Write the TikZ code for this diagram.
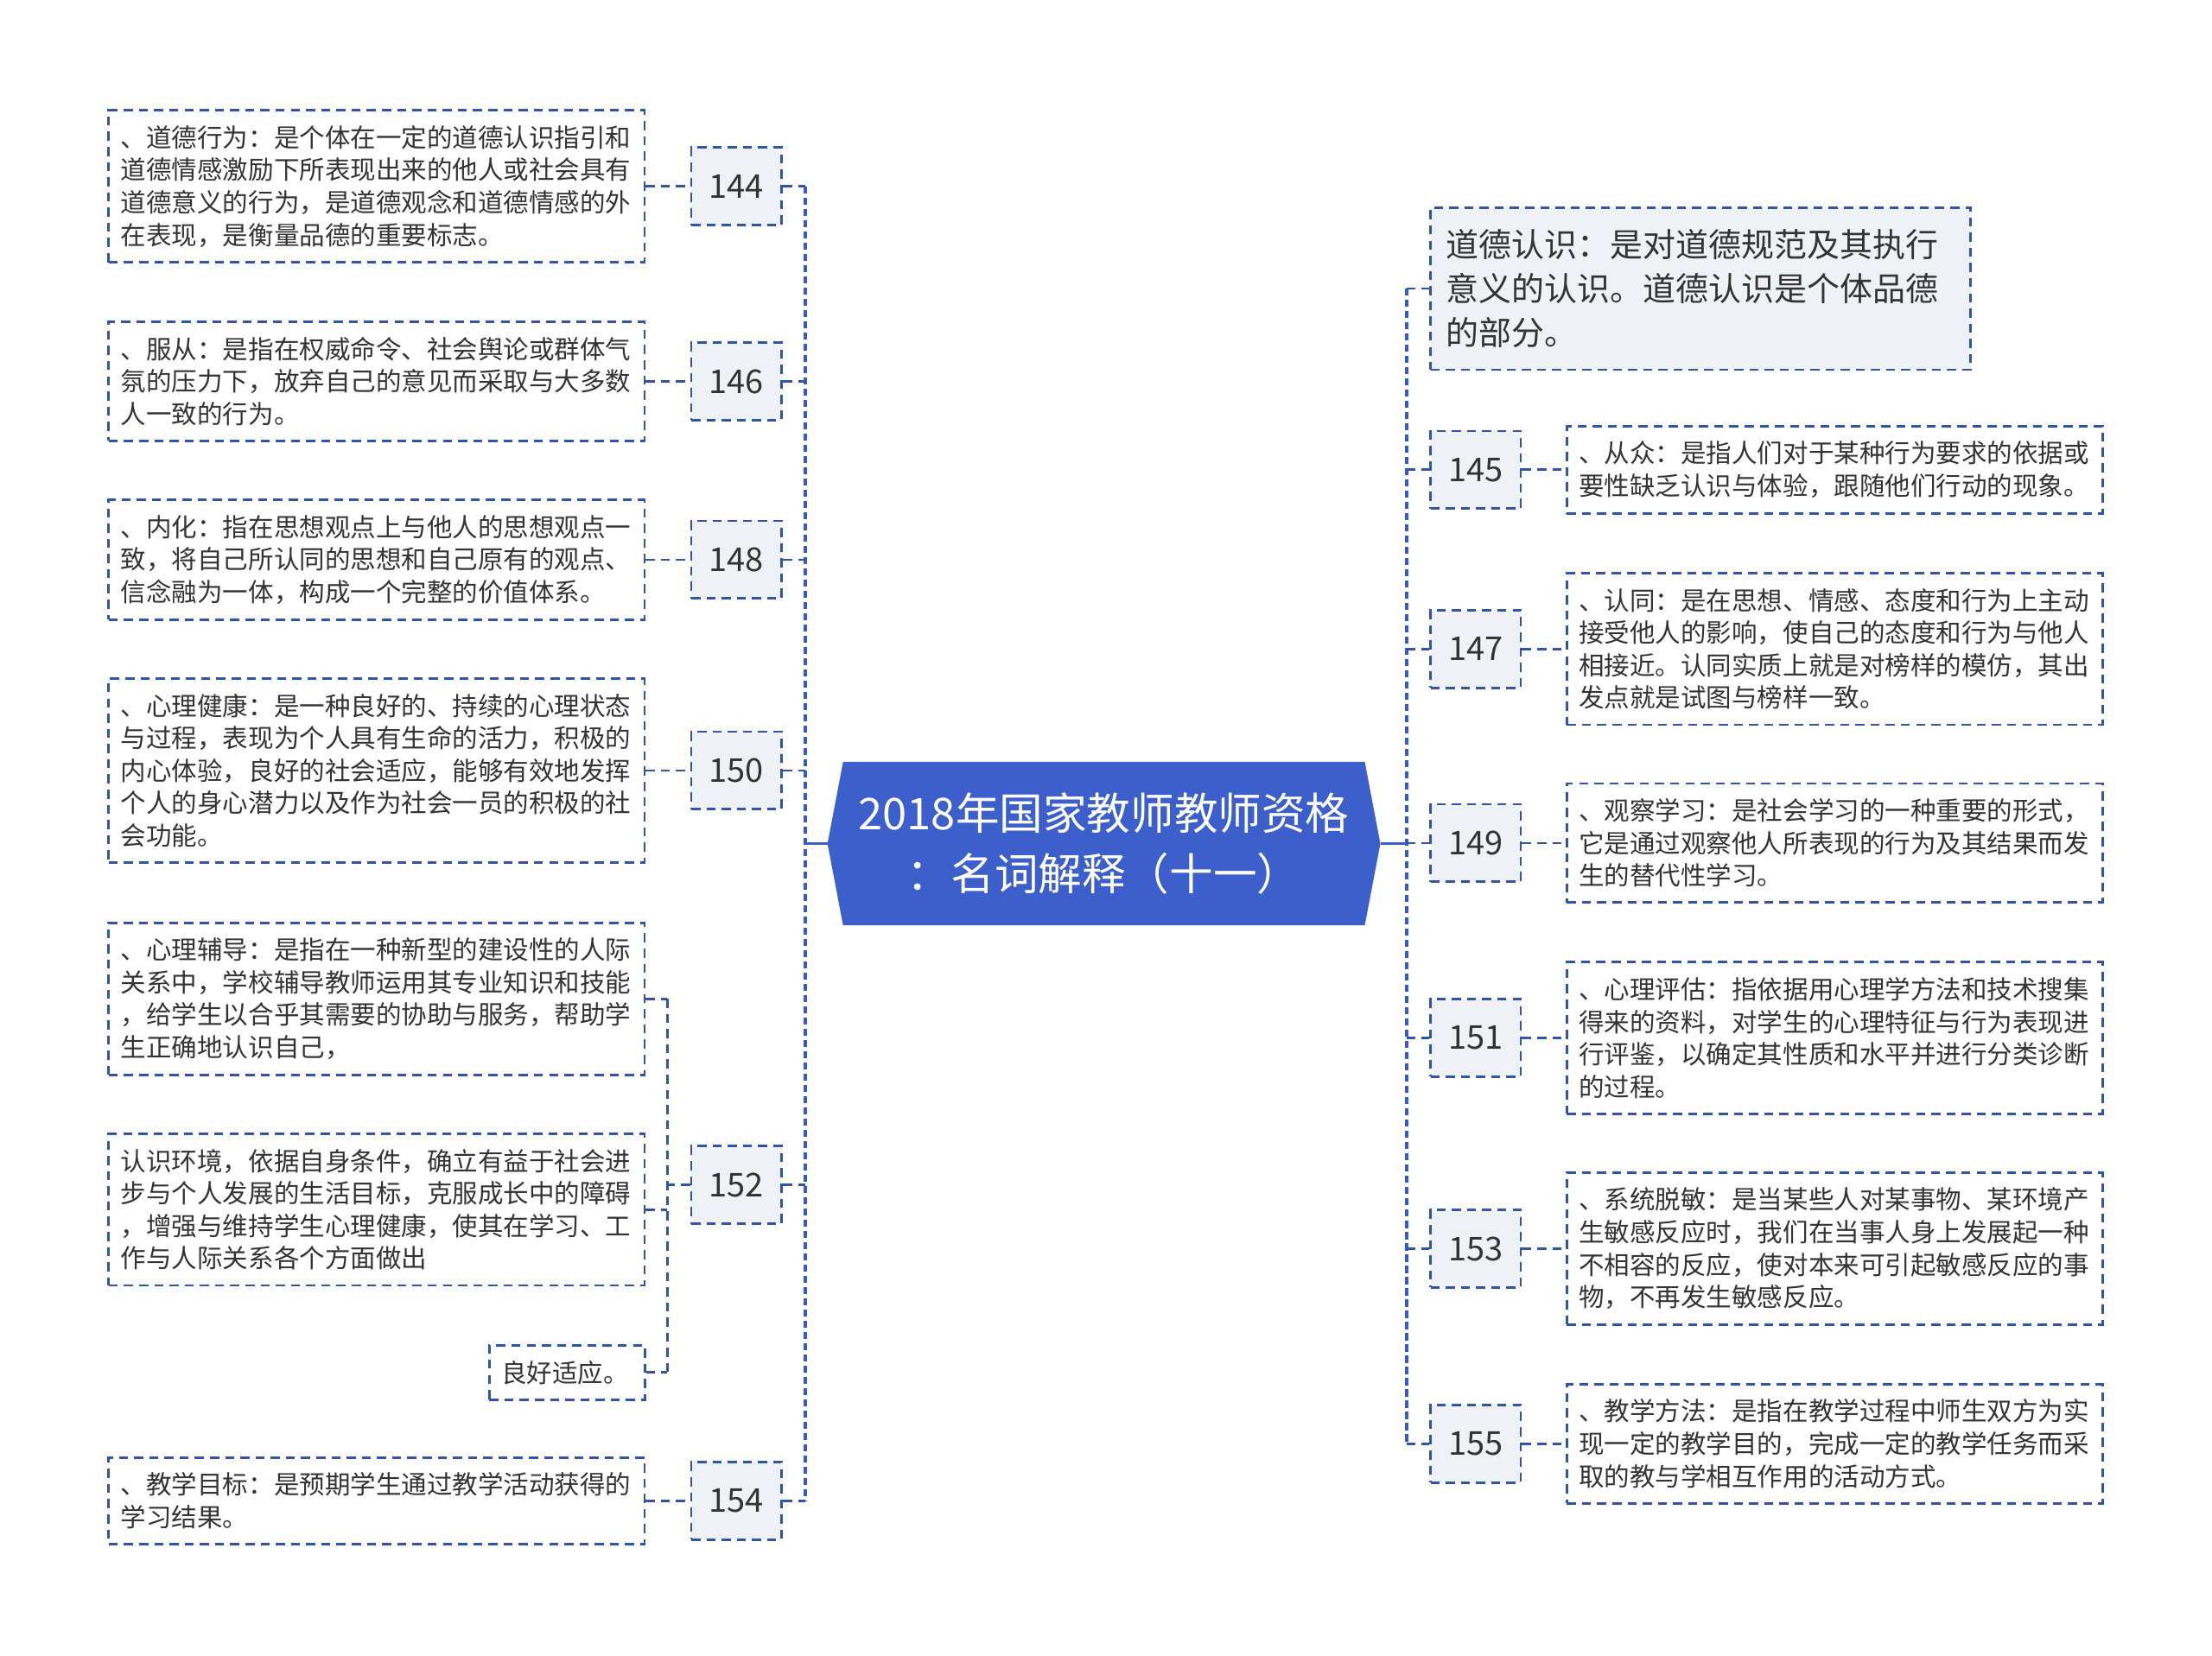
\documentclass[tikz,border=0pt]{standalone}
\usepackage{fontspec}
\setmainfont{Noto Sans CJK SC}
\usetikzlibrary{backgrounds}

\definecolor{rootblue}{RGB}{61,95,204}
\definecolor{trunkblue}{RGB}{56,90,196}
\definecolor{linkblue}{RGB}{48,84,172}
\definecolor{numfill}{RGB}{238,241,246}
\definecolor{inkgray}{RGB}{51,51,51}

\tikzset{
  link/.style={draw=linkblue, line width=0.8pt, dash pattern=on 3pt off 2pt},
  trunk/.style={draw=trunkblue, line width=1.2pt, dash pattern=on 2.3pt off 1.4pt},
  rootlink/.style={draw=rootblue, line width=0.9pt},
  leafbox/.style={link, fill=white, text=inkgray, align=left, text width=5.92cm,
    inner xsep=0.14cm, inner ysep=5pt, font=\fontsize{8.4}{10.7}\selectfont},
  numbox/.style={link, fill=numfill, text=inkgray, minimum width=1.045cm,
    minimum height=0.898cm, inner sep=0pt, font=\fontsize{10.8}{13}\selectfont},
  headbox/.style={link, fill=numfill, text=inkgray, align=left, text width=5.89cm,
    inner xsep=0.18cm, minimum height=1.878cm, font=\fontsize{10.8}{14.4}\selectfont},
}

\begin{document}
\begin{tikzpicture}

		\useasboundingbox (0,0) rectangle (25.6,19.17);

		% root
		\node[text=white, align=center, minimum width=6.384cm, minimum height=1.878cm,
			font=\fontsize{14.4}{19.9}\selectfont] (root) at (12.776,9.404)
			{2018年国家教师教师资格\\：名词解释（十一）};
		\begin{scope}[on background layer]
			\fill[rootblue] (root.west) -- ([xshift=0.18cm]root.north west) -- ([xshift=-0.18cm]root.north east)
				-- (root.east) -- ([xshift=-0.18cm]root.south east) -- ([xshift=0.18cm]root.south west) -- cycle;
		\end{scope}

		% left side
		\node[leafbox] (t144) at (4.359,17.013) {、道德行为：是个体在一定的道德认识指引和\\道德情感激励下所表现出来的他人或社会具有\\道德意义的行为，是道德观念和道德情感的外\\在表现，是衡量品德的重要标志。};
		\node[numbox] (n144) at (8.523,17.013) {144};

		\node[leafbox] (t146) at (4.359,14.755) {、服从：是指在权威命令、社会舆论或群体气\\氛的压力下，放弃自己的意见而采取与大多数\\人一致的行为。};
		\node[numbox] (n146) at (8.523,14.755) {146};

		\node[leafbox] (t148) at (4.359,12.69) {、内化：指在思想观点上与他人的思想观点一\\致，将自己所认同的思想和自己原有的观点、\\信念融为一体，构成一个完整的价值体系。};
		\node[numbox] (n148) at (8.523,12.69) {148};

		\node[leafbox] (t150) at (4.359,10.25) {、心理健康：是一种良好的、持续的心理状态\\与过程，表现为个人具有生命的活力，积极的\\内心体验，良好的社会适应，能够有效地发挥\\个人的身心潜力以及作为社会一员的积极的社\\会功能。};
		\node[numbox] (n150) at (8.523,10.25) {150};

		\node[leafbox] (t152a) at (4.359,7.608) {、心理辅导：是指在一种新型的建设性的人际\\关系中，学校辅导教师运用其专业知识和技能\\，给学生以合乎其需要的协助与服务，帮助学\\生正确地认识自己，};
		\node[leafbox] (t152b) at (4.359,5.167) {认识环境，依据自身条件，确立有益于社会进\\步与个人发展的生活目标，克服成长中的障碍\\，增强与维持学生心理健康，使其在学习、工\\作与人际关系各个方面做出};
		\node[leafbox, text width=1.52cm] (t152c) at (6.563,3.282) {良好适应。};
		\node[numbox] (n152) at (8.523,5.453) {152};

		\node[leafbox] (t154) at (4.359,1.796) {、教学目标：是预期学生通过教学活动获得的\\学习结果。};
		\node[numbox] (n154) at (8.523,1.796) {154};

		% right side
		\node[headbox] (moral) at (19.682,15.829) {道德认识：是对道德规范及其执行\\意义的认识。道德认识是个体品德\\的部分。};

		\node[numbox] (n145) at (17.078,13.731) {145};
		\node[leafbox] (t145) at (21.233,13.731) {、从众：是指人们对于某种行为要求的依据或\\要性缺乏认识与体验，跟随他们行动的现象。};

		\node[numbox] (n147) at (17.078,11.657) {147};
		\node[leafbox] (t147) at (21.233,11.657) {、认同：是在思想、情感、态度和行为上主动\\接受他人的影响，使自己的态度和行为与他人\\相接近。认同实质上就是对榜样的模仿，其出\\发点就是试图与榜样一致。};

		\node[numbox] (n149) at (17.078,9.41) {149};
		\node[leafbox] (t149) at (21.233,9.41) {、观察学习：是社会学习的一种重要的形式，\\它是通过观察他人所表现的行为及其结果而发\\生的替代性学习。};

		\node[numbox] (n151) at (17.078,7.155) {151};
		\node[leafbox] (t151) at (21.233,7.155) {、心理评估：指依据用心理学方法和技术搜集\\得来的资料，对学生的心理特征与行为表现进\\行评鉴，以确定其性质和水平并进行分类诊断\\的过程。};

		\node[numbox] (n153) at (17.078,4.715) {153};
		\node[leafbox] (t153) at (21.233,4.715) {、系统脱敏：是当某些人对某事物、某环境产\\生敏感反应时，我们在当事人身上发展起一种\\不相容的反应，使对本来可引起敏感反应的事\\物，不再发生敏感反应。};

		\node[numbox] (n155) at (17.078,2.457) {155};
		\node[leafbox] (t155) at (21.233,2.457) {、教学方法：是指在教学过程中师生双方为实\\现一定的教学目的，完成一定的教学任务而采\\取的教与学相互作用的活动方式。};

		% connectors
		\coordinate (lj) at (9.323,9.404);
		\coordinate (sj) at (7.723,5.453);
		\coordinate (rj) at (16.278,9.404);

		\draw[rootlink] (root.west) -- (lj);
		\draw[trunk] (lj |- n144.east) -- (lj |- n154.east);
		\foreach \n in {144,146,148,150,152,154}
			\draw[link] (n\n.east) -- (lj |- n\n.east);
		\foreach \n in {144,146,148,150,154}
			\draw[link] (t\n.east) -- (n\n.west);

		\draw[link] (n152.west) -- (sj);
		\draw[link] (sj |- t152a.east) -- (sj |- t152c.east);
		\foreach \k in {a,b,c}
			\draw[link] (t152\k.east) -- (sj |- t152\k.east);

		\draw[rootlink] (root.east) -- (rj);
		\draw[trunk] (rj |- moral.west) -- (rj |- n155.west);
		\draw[link] (rj |- moral.west) -- (moral.west);
		\foreach \n in {145,147,149,151,153,155} {
			\draw[link] (rj |- n\n.west) -- (n\n.west);
			\draw[link] (n\n.east) -- (t\n.west);
		}

	\end{tikzpicture}
\end{document}
